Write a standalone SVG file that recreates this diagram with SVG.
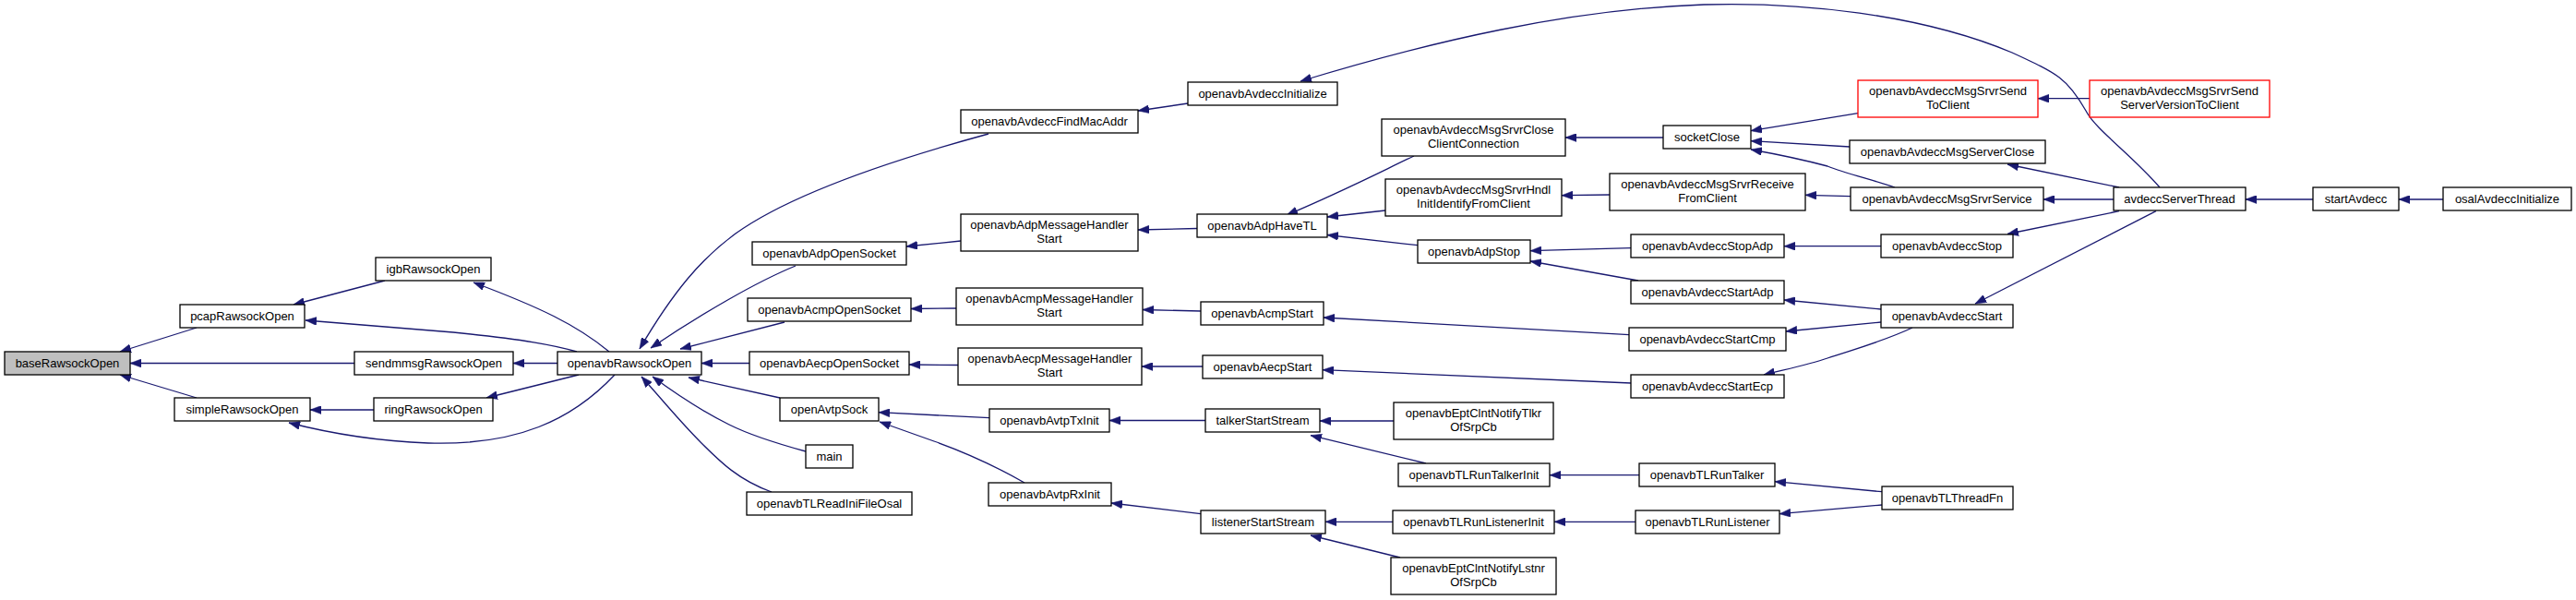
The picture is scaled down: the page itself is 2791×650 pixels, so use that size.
<svg xmlns="http://www.w3.org/2000/svg" width="2791" height="650" viewBox="0 0 2791 650">
<defs>
<style>
.n rect{fill:#fff;stroke:#000;stroke-width:1.3}
.n.g rect{fill:#bfbfbf}
.n.r rect{stroke:#ff0000}
.n text{font-family:"Liberation Sans",Arial,sans-serif;font-size:13px;fill:#000;text-anchor:middle}
#edges path{fill:none;stroke:#191970;stroke-width:1.3;marker-end:url(#ah)}
</style>
<marker id="ah" markerUnits="userSpaceOnUse" markerWidth="12" markerHeight="9" viewBox="0 0 12 9" refX="12" refY="4.5" orient="auto">
<path d="M0,0 L12,4.5 L0,9 z" fill="#191970" stroke="#191970" stroke-width="0.5"/>
</marker>
</defs>
<rect width="2791" height="650" fill="#fff"/>
<g id="edges">
<path d="M213,355 L130,381"/>
<path d="M384,393.5 L141,393.5"/>
<path d="M213,431 L130,406"/>
<path d="M417,304 L318,330"/>
<path d="M625,381 C600,374 570,368 491,360 L331,347"/>
<path d="M660,381 C625,352 585,333 513,306"/>
<path d="M604,393.5 L556,393.5"/>
<path d="M627,406 L527,431"/>
<path d="M405,444 L336,444"/>
<path d="M666,406 C620,455 560,483 464,480 C410,478 360,470 313,458"/>
<path d="M1071,145 C950,178 850,215 797,253 C760,280 730,315 693,378"/>
<path d="M862,288 C820,305 760,340 705,377"/>
<path d="M850,349 L737,378"/>
<path d="M812,393.5 L760,393.5"/>
<path d="M845,431 L746,409"/>
<path d="M873,489 C840,480 810,470 790,460 C760,445 730,425 707,408"/>
<path d="M836,533 C800,520 780,500 760,480 C735,455 715,430 695,408"/>
<path d="M1287,112 L1233,120"/>
<path d="M1041,261 L982,267"/>
<path d="M1297,247.5 L1233,249"/>
<path d="M1036,334 L987,334.5"/>
<path d="M1301,337 L1238,335.5"/>
<path d="M1038,395.5 L985,395"/>
<path d="M1303,397 L1237,397"/>
<path d="M1072,452.7 L952,446.7"/>
<path d="M1110,523 C1070,500 1040,488 1012,478 L953,457"/>
<path d="M1306,455.5 L1202,455.5"/>
<path d="M1301,556.7 L1204,545"/>
<path d="M2340,203 C2310,168 2270,140 2260,120 C2240,85 2230,80 2180,57 C2080,15 1950,2 1846,5 C1700,10 1550,45 1409,88"/>
<path d="M1532,169 C1500,184 1460,205 1394,233"/>
<path d="M1501,228 L1438,235"/>
<path d="M1536,265.7 L1438,254.5"/>
<path d="M1802,149 L1696,149"/>
<path d="M1744,211 L1692,211.7"/>
<path d="M1767,268.7 L1658,271.7"/>
<path d="M1775,304 L1658,283"/>
<path d="M2013,122.7 L1897,141.7"/>
<path d="M2004,159 L1897,152.7"/>
<path d="M2053,203 C2030,195 2000,188 1980,180 C1950,172 1925,167 1897,162"/>
<path d="M2005,212.7 L1956,211.3"/>
<path d="M2038,266.7 L1933,266.7"/>
<path d="M2038,335 L1933,325"/>
<path d="M2038,349 L1935,359"/>
<path d="M2072,355 C2040,370 2010,378 1980,388 C1960,395 1935,400 1911,406"/>
<path d="M1765,362.7 L1434,344"/>
<path d="M1767,415 L1433,400.7"/>
<path d="M1510,456 L1430,456"/>
<path d="M1545,502 L1420,471.7"/>
<path d="M1776,514.7 L1679,514.7"/>
<path d="M2039,532.7 L1923,521.7"/>
<path d="M2039,547 L1928,556.7"/>
<path d="M1772,565.3 L1684,565.3"/>
<path d="M1509,565.3 L1436,565.3"/>
<path d="M1517,604 L1420,580"/>
<path d="M2264,106.7 L2208,106.7"/>
<path d="M2296,203 L2175,178"/>
<path d="M2290,216 L2214,216"/>
<path d="M2296,228.7 L2175,253.5"/>
<path d="M2336,228.7 L2140,329"/>
<path d="M2506,216 L2433,216"/>
<path d="M2647,216 L2599,216"/>
</g>
<g id="n1" class="n g"><rect x="5" y="381" width="136" height="25"/><text x="73" y="398">baseRawsockOpen</text></g>
<g id="n2" class="n"><rect x="195" y="330" width="135" height="25"/><text x="262.5" y="347">pcapRawsockOpen</text></g>
<g id="n3" class="n"><rect x="407" y="279" width="125" height="25"/><text x="469.5" y="296">igbRawsockOpen</text></g>
<g id="n4" class="n"><rect x="384" y="381" width="172" height="25"/><text x="470" y="398">sendmmsgRawsockOpen</text></g>
<g id="n5" class="n"><rect x="189" y="431" width="147" height="25"/><text x="262.5" y="448">simpleRawsockOpen</text></g>
<g id="n6" class="n"><rect x="405" y="431" width="129" height="25"/><text x="469.5" y="448">ringRawsockOpen</text></g>
<g id="n7" class="n"><rect x="604" y="381" width="156" height="25"/><text x="682" y="398">openavbRawsockOpen</text></g>
<g id="n8" class="n"><rect x="1041" y="119" width="192" height="25"/><text x="1137" y="136">openavbAvdeccFindMacAddr</text></g>
<g id="n9" class="n"><rect x="815" y="262" width="167" height="25"/><text x="898.5" y="279">openavbAdpOpenSocket</text></g>
<g id="n10" class="n"><rect x="810" y="323" width="177" height="25"/><text x="898.5" y="340">openavbAcmpOpenSocket</text></g>
<g id="n11" class="n"><rect x="812" y="381" width="173" height="25"/><text x="898.5" y="398">openavbAecpOpenSocket</text></g>
<g id="n12" class="n"><rect x="845" y="431" width="107" height="25"/><text x="898.5" y="448">openAvtpSock</text></g>
<g id="n13" class="n"><rect x="873" y="482" width="51" height="25"/><text x="898.5" y="499">main</text></g>
<g id="n14" class="n"><rect x="809" y="533" width="179" height="25"/><text x="898.5" y="550">openavbTLReadIniFileOsal</text></g>
<g id="n15" class="n"><rect x="1287" y="89" width="162" height="25"/><text x="1368" y="106">openavbAvdeccInitialize</text></g>
<g id="n16" class="n"><rect x="1041" y="232" width="192" height="40"/><text x="1137" y="248">openavbAdpMessageHandler</text><text x="1137" y="263">Start</text></g>
<g id="n17" class="n"><rect x="1036" y="312" width="202" height="40"/><text x="1137" y="328">openavbAcmpMessageHandler</text><text x="1137" y="343">Start</text></g>
<g id="n18" class="n"><rect x="1038" y="377" width="199" height="40"/><text x="1137.5" y="393">openavbAecpMessageHandler</text><text x="1137.5" y="408">Start</text></g>
<g id="n19" class="n"><rect x="1072" y="443" width="130" height="25"/><text x="1137" y="460">openavbAvtpTxInit</text></g>
<g id="n20" class="n"><rect x="1071" y="523" width="133" height="25"/><text x="1137.5" y="540">openavbAvtpRxInit</text></g>
<g id="n21" class="n"><rect x="1297" y="232" width="141" height="25"/><text x="1367.5" y="249">openavbAdpHaveTL</text></g>
<g id="n22" class="n"><rect x="1301" y="327" width="133" height="25"/><text x="1367.5" y="344">openavbAcmpStart</text></g>
<g id="n23" class="n"><rect x="1303" y="385" width="130" height="25"/><text x="1368" y="402">openavbAecpStart</text></g>
<g id="n24" class="n"><rect x="1306" y="443" width="124" height="25"/><text x="1368" y="460">talkerStartStream</text></g>
<g id="n25" class="n"><rect x="1301" y="553" width="135" height="25"/><text x="1368.5" y="570">listenerStartStream</text></g>
<g id="n26" class="n"><rect x="1497" y="129" width="199" height="40"/><text x="1596.5" y="145">openavbAvdeccMsgSrvrClose</text><text x="1596.5" y="160">ClientConnection</text></g>
<g id="n27" class="n"><rect x="1501" y="194" width="191" height="40"/><text x="1596.5" y="210">openavbAvdeccMsgSrvrHndl</text><text x="1596.5" y="225">InitIdentifyFromClient</text></g>
<g id="n28" class="n"><rect x="1536" y="260" width="122" height="25"/><text x="1597" y="277">openavbAdpStop</text></g>
<g id="n29" class="n"><rect x="1510" y="436" width="173" height="40"/><text x="1596.5" y="452">openavbEptClntNotifyTlkr</text><text x="1596.5" y="467">OfSrpCb</text></g>
<g id="n30" class="n"><rect x="1515" y="502" width="164" height="25"/><text x="1597" y="519">openavbTLRunTalkerInit</text></g>
<g id="n31" class="n"><rect x="1509" y="553" width="175" height="25"/><text x="1596.5" y="570">openavbTLRunListenerInit</text></g>
<g id="n32" class="n"><rect x="1507" y="604" width="179" height="40"/><text x="1596.5" y="620">openavbEptClntNotifyLstnr</text><text x="1596.5" y="635">OfSrpCb</text></g>
<g id="n33" class="n"><rect x="1802" y="136" width="95" height="25"/><text x="1849.5" y="153">socketClose</text></g>
<g id="n34" class="n"><rect x="1744" y="188" width="212" height="40"/><text x="1850" y="204">openavbAvdeccMsgSrvrReceive</text><text x="1850" y="219">FromClient</text></g>
<g id="n35" class="n"><rect x="1767" y="254" width="166" height="25"/><text x="1850" y="271">openavbAvdeccStopAdp</text></g>
<g id="n36" class="n"><rect x="1767" y="304" width="166" height="25"/><text x="1850" y="321">openavbAvdeccStartAdp</text></g>
<g id="n37" class="n"><rect x="1765" y="355" width="170" height="25"/><text x="1850" y="372">openavbAvdeccStartCmp</text></g>
<g id="n38" class="n"><rect x="1767" y="406" width="166" height="25"/><text x="1850" y="423">openavbAvdeccStartEcp</text></g>
<g id="n39" class="n"><rect x="1776" y="502" width="147" height="25"/><text x="1849.5" y="519">openavbTLRunTalker</text></g>
<g id="n40" class="n"><rect x="1772" y="553" width="156" height="25"/><text x="1850" y="570">openavbTLRunListener</text></g>
<g id="n41" class="n r"><rect x="2013" y="87" width="195" height="40"/><text x="2110.5" y="103">openavbAvdeccMsgSrvrSend</text><text x="2110.5" y="118">ToClient</text></g>
<g id="n42" class="n"><rect x="2004" y="152" width="212" height="25"/><text x="2110" y="169">openavbAvdeccMsgServerClose</text></g>
<g id="n43" class="n"><rect x="2005" y="203" width="209" height="25"/><text x="2109.5" y="220">openavbAvdeccMsgSrvrService</text></g>
<g id="n44" class="n"><rect x="2038" y="254" width="143" height="25"/><text x="2109.5" y="271">openavbAvdeccStop</text></g>
<g id="n45" class="n"><rect x="2038" y="330" width="143" height="25"/><text x="2109.5" y="347">openavbAvdeccStart</text></g>
<g id="n46" class="n"><rect x="2039" y="527" width="142" height="25"/><text x="2110" y="544">openavbTLThreadFn</text></g>
<g id="n47" class="n r"><rect x="2264" y="87" width="195" height="40"/><text x="2361.5" y="103">openavbAvdeccMsgSrvrSend</text><text x="2361.5" y="118">ServerVersionToClient</text></g>
<g id="n48" class="n"><rect x="2290" y="203" width="143" height="25"/><text x="2361.5" y="220">avdeccServerThread</text></g>
<g id="n49" class="n"><rect x="2506" y="203" width="93" height="25"/><text x="2552.5" y="220">startAvdecc</text></g>
<g id="n50" class="n"><rect x="2647" y="203" width="139" height="25"/><text x="2716.5" y="220">osalAvdeccInitialize</text></g>
</svg>
